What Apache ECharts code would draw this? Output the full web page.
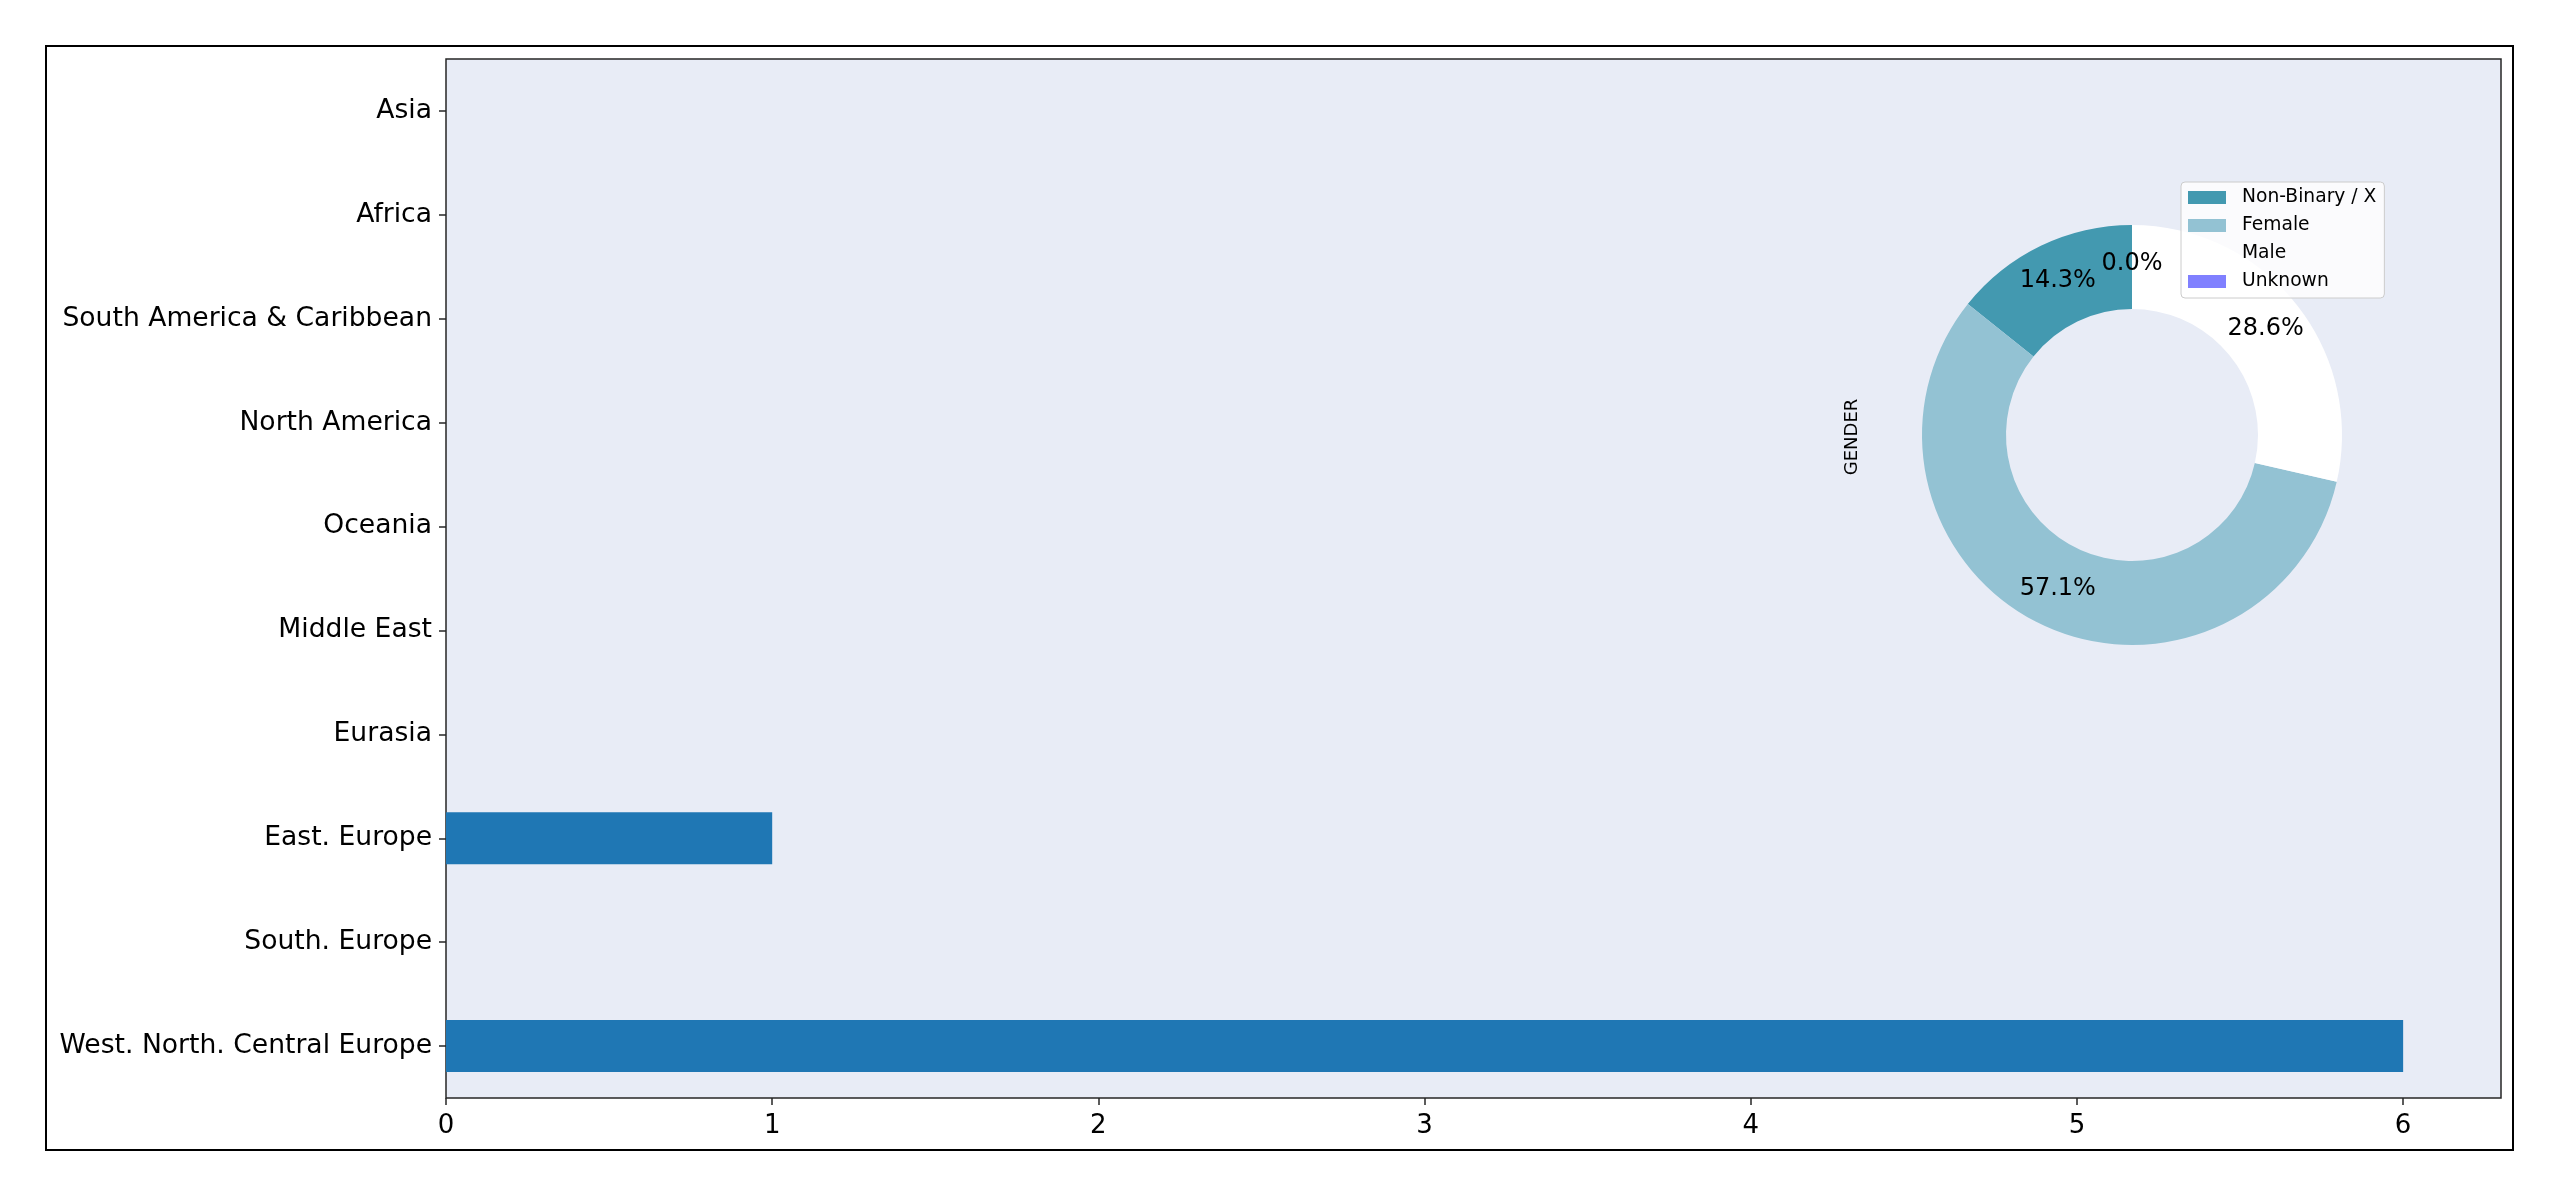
<!DOCTYPE html>
<html>
<head>
<meta charset="utf-8">
<script src="https://cdn.jsdelivr.net/npm/echarts@6/dist/echarts.min.js"></script>
<style>
html,body{margin:0;padding:0;background:#fff;}
#chart{width:2560px;height:1197px;}
</style>
</head>
<body>
<div id="chart"></div>
<script>
// Region bar chart (top to bottom)
const regions = ['Asia','Africa','South America & Caribbean','North America','Oceania','Middle East','Eurasia','East. Europe','South. Europe','West. North. Central Europe'];
const regionCounts = [0,0,0,0,0,0,0,1,0,6];
const xTicks = [0,1,2,3,4,5,6];

// Gender donut
const genders = ['Non-Binary / X','Female','Male','Unknown'];
const genderCounts = [1,4,2,0];
const genderColors = ['#4399b0','#93c2d3','#ffffff','#8080ff'];

const FONT = 'DejaVu Sans';
const total = genderCounts.reduce((a,b)=>a+b,0);

const chart = echarts.init(document.getElementById('chart'));
chart.setOption({
  animation:false,
  backgroundColor:'#ffffff',
  textStyle:{fontFamily:FONT},
  grid:{left:446,top:59,right:59,bottom:99,show:true,backgroundColor:'#e8ecf6',borderColor:'#262626',borderWidth:1.5},
  xAxis:{
    type:'value',min:0,max:6.3,interval:1,
    axisLine:{show:false},
    splitLine:{show:false},
    axisTick:{show:true,length:7,lineStyle:{color:'#262626',width:1.5},customValues:xTicks},
    axisLabel:{fontSize:26,color:'#000',margin:15,fontFamily:FONT,customValues:xTicks}
  },
  yAxis:{
    type:'category',data:regions,inverse:true,
    axisLine:{show:false},
    axisTick:{show:true,alignWithLabel:true,length:7,lineStyle:{color:'#262626',width:1.5}},
    axisLabel:{fontSize:26.6,color:'#000',margin:14,fontFamily:FONT,padding:[10,0,0,0]}
  },
  legend:{
    orient:'vertical',left:2181,top:182,
    data:genders,
    icon:'rect',itemWidth:38,itemHeight:13,itemGap:9,
    padding:[6,8,7,7],
    backgroundColor:'rgba(255,255,255,0.8)',borderColor:'#cccccc',borderWidth:1,borderRadius:4,
    textStyle:{fontSize:18.7,lineHeight:19,color:'#000',fontFamily:FONT,padding:[0,0,0,11]}
  },
  graphic:[
    {type:'rect',shape:{x:46,y:46,width:2467,height:1104},style:{fill:'none',stroke:'#000',lineWidth:2},silent:true,z:100},
    {type:'text',x:1852,y:437,rotation:Math.PI/2,style:{text:'GENDER',fontSize:18,fontFamily:FONT,fill:'#000',align:'center',verticalAlign:'middle'},z:50}
  ],
  series:[
    {
      type:'bar',data:regionCounts,barWidth:'50%',
      itemStyle:{color:'#1f77b4'}
    },
    {
      type:'pie',center:[2132,435],radius:[126,210],startAngle:90,clockwise:false,
      avoidLabelOverlap:false,
      data:genders.map((g,i)=>({name:g,value:genderCounts[i],itemStyle:{color:genderColors[i]}})),
      label:{show:true,position:'inside',fontSize:24,color:'#000',fontFamily:FONT,padding:[6,0,0,0],
        formatter:p=>(p.value/total*100).toFixed(1)+'%'},
      labelLine:{show:false},
      emphasis:{disabled:true}
    }
  ]
});
</script>
</body>
</html>
